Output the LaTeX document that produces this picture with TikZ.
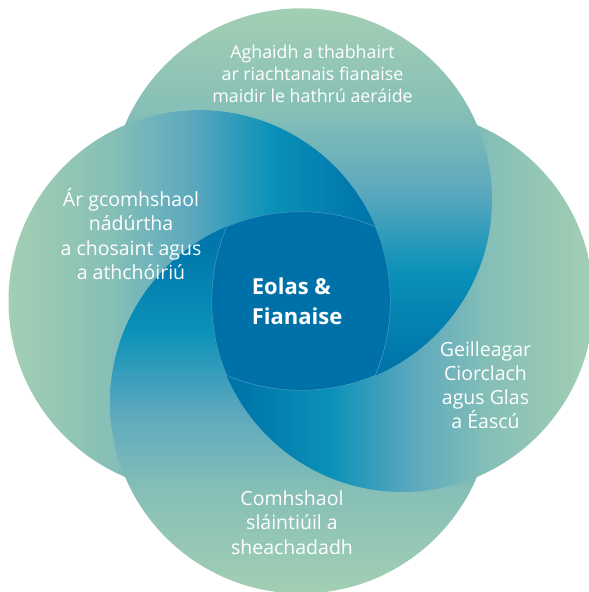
\documentclass[tikz,border=0pt]{standalone}
\usepackage{fontspec}
\setmainfont{Open Sans}
\definecolor{pgA}{HTML}{A3CFB3}
\definecolor{pgB}{HTML}{86BFB7}
\definecolor{pgC}{HTML}{5BA8BE}
\definecolor{pgD}{HTML}{0A91B8}
\definecolor{pgE}{HTML}{0077AB}
\definecolor{pgF}{HTML}{0071A8}
\definecolor{cblue}{HTML}{0071A8}
\pgfdeclarehorizontalshading{petal}{100bp}{color(0bp)=(pgA); color(25bp)=(pgA); color(38.5bp)=(pgB); color(49bp)=(pgC); color(59.5bp)=(pgD); color(70.5bp)=(pgE); color(75bp)=(pgF); color(100bp)=(pgF)}
\tikzset{
  petalT/.style={shading=petal, shading angle=-90},
  petalL/.style={shading=petal, shading angle=0},
  petalB/.style={shading=petal, shading angle=90},
  petalR/.style={shading=petal, shading angle=180},
  lbl/.style={text=white, align=center, inner sep=0pt},
  edgeline/.style={draw=white, draw opacity=0.35, line width=0.8pt},
}
\begin{document}
\begin{tikzpicture}[x=1pt,y=1pt]
\useasboundingbox (0,0) rectangle (589,592);
\fill[white] (0,0) rectangle (589,592);
\clip (0,0) rectangle (589,592);
\def\rr{191}
\coordinate (T) at (301,392.5);
\coordinate (R) at (402.5,291);
\coordinate (B) at (301,189.5);
\coordinate (L) at (199.5,291);
% cyclic stacking: L over T, B over L, R over B, T over R
\shade[petalT] (T) circle (\rr);
\shade[petalL] (L) circle (\rr);
\shade[petalB] (B) circle (\rr);
\begin{scope}[even odd rule]
  \clip (-10,-10) -- (-10,610) -- (610,610) -- (610,-10) -- cycle
        (T) circle (190.4);
  \shade[petalR] (R) circle (\rr);
\end{scope}
\begin{scope}[even odd rule]
  \clip (-10,-10) -- (-10,610) -- (610,610) -- (610,-10) -- cycle
        (L) circle (\rr);
  \shade[petalT] (T) circle (\rr);
\end{scope}
% centre
\begin{scope}
  \clip (T) circle (\rr);
  \clip (R) circle (\rr);
  \clip (B) circle (\rr);
  \clip (L) circle (\rr);
  \fill[cblue] (0,0) rectangle (589,592);
  \path[edgeline] (T) circle (\rr) (R) circle (\rr) (B) circle (\rr) (L) circle (\rr);
\end{scope}
% labels
\node[lbl, font=\fontsize{17.8}{22}\selectfont] (ttop) at (312.5,518.4)
  {Aghaidh a thabhairt\\ar riachtanais fianaise\\maidir le hathrú aeráide};
\node[lbl, font=\fontsize{19.5}{24.5}\selectfont] (tleft) at (131,358)
  {Ár gcomhshaol\\nádúrtha\\a chosaint agus\\a athchóiriú};
\node[lbl, font=\fontsize{19.5}{24}\selectfont] (tright) at (485.5,207)
  {Geilleagar\\Ciorclach\\agus Glas\\a Éascú};
\node[lbl, font=\fontsize{19.5}{24.5}\selectfont] (tbottom) at (292,69.5)
  {Comhshaol\\sláintiúil a\\sheachadadh};
\node[lbl, align=left, anchor=west, font=\bfseries\fontsize{22}{30}\selectfont] (tcentre) at (251.7,290.3)
  {Eolas \&\\Fianaise};
\end{tikzpicture}
\end{document}
